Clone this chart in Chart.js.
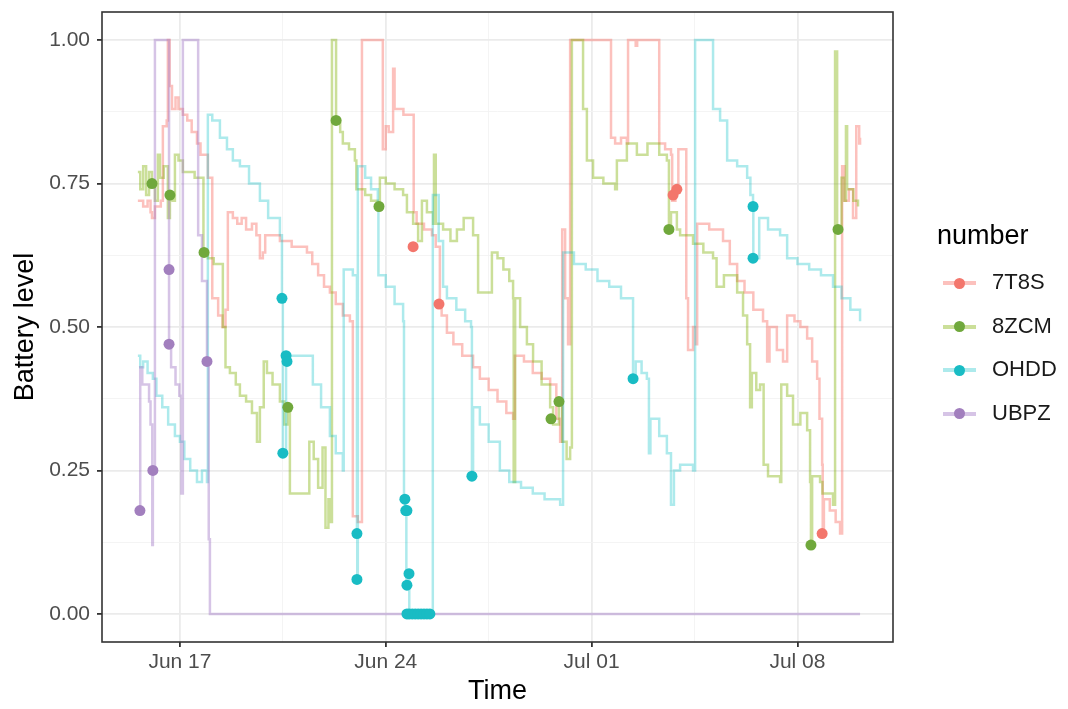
<!DOCTYPE html>
<html lang="en">
<head>
  <meta charset="UTF-8" />
  <title>Battery level</title>
  <script src="https://cdn.jsdelivr.net/npm/chart.js"></script>
  <style>
    body { margin: 0; background: #fff; font-family: "Liberation Sans", Arial, sans-serif; }
    #wrap { position: relative; width: 1068px; height: 709px; }
    #legend { position: absolute; left: 937px; top: 218px; }
    #legend .title { font-size: 27px; color: #000; line-height: 34px; margin-bottom: 10px; }
    #legend .item { position: relative; height: 43.5px; }
    #legend .line { position: absolute; left: 6px; top: 19px; width: 33px; height: 4px; }
    #legend .dot { position: absolute; left: 16.5px; top: 15.5px; width: 11px; height: 11px; border-radius: 50%; }
    #legend .label { position: absolute; left: 55px; top: 7px; font-size: 22px; color: #1a1a1a; }
  </style>
</head>
<body>
<div id="wrap">
  <canvas id="chart" width="1068" height="709"></canvas>
  <div id="legend"></div>
</div>
<script>
  // time is in days counted from Jun 1 (Jul 01 = 31)
  const series = ['7T8S', '8ZCM', 'OHDD', 'UBPZ'];
  const colors = ['#F3766C', '#70A83C', '#19BCC4', '#A27FBE'];
  const lineColors = ['rgba(248,118,109,0.45)', 'rgba(124,174,0,0.4)', 'rgba(0,191,196,0.32)', 'rgba(165,125,200,0.45)'];

  const t7T8S = [15.57,15.75,15.90,16.00,16.05,16.15,16.35,16.42,16.55,16.59,
    16.65,16.73,16.85,16.95,17.10,17.25,17.40,17.58,17.70,17.95,
    18.10,18.30,18.45,18.55,18.63,18.80,18.95,19.10,19.25,19.45,
    19.60,19.72,19.82,19.90,20.10,20.40,20.80,21.32,21.50,21.70,
    21.90,22.10,22.30,22.54,22.78,22.88,23.05,23.19,23.87,23.90,
    24.00,24.10,24.25,24.30,24.60,24.92,24.95,25.05,25.30,25.57,
    25.70,25.84,25.90,26.08,26.30,26.60,26.97,27.20,27.50,27.80,
    28.10,28.33,28.39,28.70,29.00,29.30,29.59,29.80,29.93,30.00,
    30.10,30.20,30.27,31.63,31.66,31.80,32.00,32.20,32.24,32.50,
    32.55,33.22,33.30,33.50,33.70,33.74,33.85,33.95,34.18,34.22,
    34.28,34.45,34.55,34.59,35.00,35.47,35.70,35.95,36.20,36.50,
    36.83,36.97,37.05,37.30,37.51,37.65,37.90,38.10,38.33,38.50,
    38.67,38.75,38.84,38.86,38.90,39.10,39.30,39.45,39.52,39.60,
    39.75,39.89,40.00,40.10,40.13];
  const v7T8S = [0.72,0.71,0.72,0.70,0.69,0.71,0.72,0.85,0.86,1.00,
    0.92,0.88,0.90,0.88,0.87,0.86,0.84,0.82,0.80,0.76,
    0.55,0.52,0.50,0.53,0.70,0.69,0.68,0.69,0.67,0.68,
    0.66,0.62,0.63,0.66,0.66,0.65,0.64,0.63,0.61,0.59,
    0.57,0.56,0.54,0.52,0.51,0.17,0.16,1.00,1.00,0.81,
    0.85,0.84,0.95,0.88,0.87,0.87,0.70,0.68,0.67,0.66,
    0.64,0.54,0.52,0.49,0.47,0.45,0.43,0.41,0.39,0.37,
    0.35,0.34,0.45,0.44,0.42,0.41,0.40,0.34,0.30,0.67,
    0.55,0.47,1.00,1.00,0.83,0.82,0.83,0.82,1.00,0.99,
    1.00,1.00,0.82,0.81,0.80,0.72,0.74,0.81,0.81,0.55,
    0.46,0.50,0.47,0.68,0.67,0.65,0.61,0.58,0.56,0.53,
    0.51,0.44,0.50,0.46,0.44,0.52,0.51,0.50,0.48,0.44,
    0.41,0.34,0.26,0.14,0.20,0.18,0.16,0.14,0.78,0.72,
    0.74,0.69,0.85,0.82,0.83];

  const t8ZCM = [15.57,15.65,15.75,15.85,15.95,16.05,16.15,16.25,16.32,16.45,
    16.59,16.66,16.75,16.83,16.95,17.10,17.30,17.50,17.68,17.80,
    17.95,18.15,18.36,18.46,18.55,18.70,18.90,19.04,19.25,19.45,
    19.62,19.72,19.85,19.96,20.15,20.40,20.55,20.67,20.74,21.32,
    21.40,21.55,21.70,21.85,21.95,22.05,22.10,22.17,22.27,22.31,
    22.45,22.54,22.75,22.95,23.00,23.30,23.50,23.77,23.80,24.00,
    24.30,24.59,24.72,24.93,25.10,25.23,25.40,25.61,25.64,25.70,
    25.95,26.20,26.42,26.65,26.97,27.14,27.54,27.61,27.80,28.00,
    28.20,28.33,28.35,28.40,28.57,28.80,29.01,29.30,29.59,29.69,
    29.89,30.00,30.15,30.27,30.33,30.61,30.71,30.84,31.05,31.40,
    31.80,31.86,32.20,32.54,32.90,33.30,33.56,33.63,33.70,33.90,
    34.01,34.45,34.80,35.13,35.25,35.50,35.95,36.15,36.29,36.39,
    36.45,36.60,36.73,36.85,37.00,37.41,37.45,37.65,37.85,38.10,
    38.33,38.43,38.46,38.50,38.77,38.85,39.21,39.28,39.35,39.50,
    39.60,39.65,39.69,39.90,40.06];
  const v8ZCM = [0.77,0.74,0.78,0.73,0.77,0.75,0.72,0.80,0.76,0.78,
    0.69,0.73,0.72,0.80,0.79,0.77,0.77,0.76,0.76,0.63,
    0.62,0.61,0.61,0.50,0.43,0.42,0.40,0.38,0.37,0.35,
    0.30,0.36,0.44,0.42,0.40,0.37,0.33,0.36,0.21,0.21,
    0.30,0.27,0.22,0.29,0.15,0.20,0.16,1.00,1.00,0.86,
    0.84,0.82,0.81,0.79,0.74,0.73,0.72,0.71,0.76,0.75,
    0.74,0.73,0.70,0.68,0.65,0.72,0.70,0.68,0.80,0.68,
    0.67,0.65,0.67,0.69,0.66,0.56,0.56,0.63,0.62,0.60,
    0.58,0.55,0.23,0.55,0.50,0.47,0.44,0.40,0.36,0.33,
    0.37,0.30,0.27,0.29,1.00,1.00,0.88,0.79,0.76,0.75,
    0.74,0.79,0.82,0.80,0.82,0.80,0.79,0.67,0.70,0.67,
    0.66,0.645,0.63,0.62,0.57,0.59,0.56,0.52,0.47,0.36,
    0.42,0.39,0.40,0.26,0.24,0.23,0.40,0.38,0.33,0.35,
    0.32,0.23,0.12,0.24,0.23,0.21,0.19,0.98,0.67,0.76,
    0.72,0.85,0.74,0.72,0.71];

  const tOHDD = [15.57,15.65,15.75,15.90,16.08,16.20,16.40,16.60,16.83,17.00,
    17.15,17.35,17.58,17.75,17.92,17.95,18.10,18.36,18.60,18.80,
    19.04,19.35,19.72,20.00,20.40,20.47,20.50,20.61,21.32,21.52,
    21.80,22.10,22.30,22.54,22.57,22.88,23.02,23.03,23.05,23.30,
    23.50,23.73,23.75,24.00,24.30,24.59,24.62,24.66,24.70,24.76,
    24.80,25.55,25.60,25.67,25.80,25.95,26.08,26.40,26.70,26.90,
    26.93,26.97,27.20,27.50,27.88,28.20,28.60,29.00,29.40,29.93,
    30.03,30.40,30.80,31.20,31.60,32.00,32.21,32.41,32.50,32.70,
    32.88,32.95,33.00,33.30,33.56,33.70,33.80,34.01,34.45,34.52,
    34.96,35.13,35.37,35.61,35.95,36.29,36.40,36.49,36.50,36.70,
    37.00,37.41,37.65,38.00,38.40,38.80,39.21,39.50,39.80,40.13];
  const vOHDD = [0.45,0.43,0.44,0.42,0.41,0.38,0.36,0.33,0.31,0.30,
    0.27,0.25,0.23,0.25,0.23,0.87,0.86,0.83,0.81,0.79,
    0.78,0.75,0.72,0.69,0.66,0.55,0.28,0.45,0.45,0.40,
    0.36,0.31,0.28,0.25,0.60,0.59,0.14,0.06,0.78,0.76,
    0.74,0.71,0.59,0.57,0.54,0.51,0.20,0.18,0.05,0.07,
    0.00,0.00,0.73,0.73,0.65,0.57,0.55,0.53,0.51,0.50,
    0.24,0.36,0.33,0.30,0.25,0.23,0.22,0.21,0.20,0.19,
    0.63,0.61,0.60,0.58,0.57,0.55,0.55,0.41,0.44,0.42,
    0.41,0.28,0.34,0.31,0.28,0.19,0.25,0.26,0.25,1.00,
    1.00,0.88,0.86,0.79,0.78,0.76,0.73,0.71,0.62,0.69,
    0.67,0.66,0.62,0.61,0.60,0.59,0.57,0.55,0.53,0.51];

  const tUBPZ = [15.64,15.65,15.72,15.85,15.95,16.00,16.06,16.08,16.15,16.59,
    16.63,16.70,16.85,16.98,17.05,17.10,17.58,17.62,17.75,17.92,
    17.98,18.02,40.13];
  const vUBPZ = [0.18,0.43,0.40,0.40,0.37,0.33,0.12,0.25,1.00,1.00,
    0.47,0.43,0.40,0.38,0.21,1.00,1.00,0.66,0.58,0.44,
    0.13,0.00,0.00];

  // highlighted observations (dots)
  const pt7T8S = [24.93,25.81,33.77,33.90,38.84];
  const pv7T8S = [0.64,0.54,0.73,0.74,0.14];
  const pt8ZCM = [16.05,16.66,17.82,20.67,22.31,23.77,29.62,29.89,33.63,38.46,39.38];
  const pv8ZCM = [0.75,0.73,0.63,0.36,0.86,0.71,0.34,0.37,0.67,0.12,0.67];
  const ptOHDD = [20.47,20.50,20.61,20.64,23.02,23.02,24.65,24.68,24.72,24.79,24.72,
    24.72,24.80,24.90,25.00,25.10,25.20,25.30,25.40,25.50,26.93,32.41,36.49,36.49];
  const pvOHDD = [0.55,0.28,0.45,0.44,0.14,0.06,0.20,0.18,0.18,0.07,0.05,
    0.00,0.00,0.00,0.00,0.00,0.00,0.00,0.00,0.00,0.24,0.41,0.71,0.62];
  const ptUBPZ = [15.64,16.08,16.63,16.63,17.92];
  const pvUBPZ = [0.18,0.25,0.60,0.47,0.44];

  const xTicks = [17, 20.5, 24, 27.5, 31, 34.5, 38];
  const xLabels = { 17: 'Jun 17', 24: 'Jun 24', 31: 'Jul 01', 38: 'Jul 08' };
  const yTicks = [0, 0.125, 0.25, 0.375, 0.5, 0.625, 0.75, 0.875, 1];
  const yLabels = { 0: '0.00', 0.25: '0.25', 0.5: '0.50', 0.75: '0.75', 1: '1.00' };

  const zip = (t, v) => t.map((x, i) => ({ x: x, y: v[i] }));
  const lineT = [t7T8S, t8ZCM, tOHDD, tUBPZ];
  const lineV = [v7T8S, v8ZCM, vOHDD, vUBPZ];
  const dotT = [pt7T8S, pt8ZCM, ptOHDD, ptUBPZ];
  const dotV = [pv7T8S, pv8ZCM, pvOHDD, pvUBPZ];

  const datasets = [];
  series.forEach((name, i) => {
    datasets.push({
      label: name,
      data: zip(lineT[i], lineV[i]),
      borderColor: lineColors[i],
      borderWidth: 2.5,
      stepped: true,
      pointRadius: 0,
      fill: false,
      order: 20 - i
    });
  });
  series.forEach((name, i) => {
    datasets.push({
      label: name + ' points',
      data: zip(dotT[i], dotV[i]),
      showLine: false,
      pointRadius: 5.5,
      pointBorderWidth: 0,
      pointBackgroundColor: colors[i],
      order: 10 - i
    });
  });

  const panelBorder = {
    id: 'panelBorder',
    afterDraw(chart) {
      const { ctx, chartArea: a } = chart;
      ctx.save();
      ctx.strokeStyle = '#333333';
      ctx.lineWidth = 1.6;
      ctx.strokeRect(a.left, a.top, a.right - a.left, a.bottom - a.top);
      ctx.restore();
    }
  };

  const isMajorX = v => xLabels[v] !== undefined;
  const isMajorY = v => yLabels[v] !== undefined;

  Chart.defaults.font.family = '"Liberation Sans", Arial, sans-serif';

  new Chart(document.getElementById('chart'), {
    type: 'line',
    data: { datasets: datasets },
    plugins: [panelBorder],
    options: {
      responsive: false,
      animation: false,
      layout: { padding: { top: 12, right: 175, left: 0, bottom: 0 } },
      plugins: { legend: { display: false }, tooltip: { enabled: false } },
      scales: {
        x: {
          type: 'linear',
          min: 14.35,
          max: 41.25,
          afterBuildTicks: s => { s.ticks = xTicks.map(v => ({ value: v })); },
          afterFit: s => { s.height = 67; s.paddingLeft = 0; s.paddingRight = 0; },
          border: { display: false },
          grid: {
            color: c => isMajorX(c.tick.value) ? '#EBEBEB' : '#F3F3F3',
            lineWidth: c => isMajorX(c.tick.value) ? 1.8 : 0.9,
            tickColor: c => isMajorX(c.tick.value) ? '#333333' : 'rgba(0,0,0,0)',
            tickLength: 5
          },
          ticks: {
            autoSkip: false,
            maxRotation: 0,
            padding: 3,
            color: '#4D4D4D',
            font: { size: 21 },
            callback: v => xLabels[v] || ''
          },
          title: { display: true, text: 'Time', color: '#000', font: { size: 27 }, padding: { top: 0, bottom: 1 } }
        },
        y: {
          min: -0.049,
          max: 1.049,
          afterBuildTicks: s => { s.ticks = yTicks.map(v => ({ value: v })); },
          afterFit: s => { s.width = 102; s.paddingTop = 0; s.paddingBottom = 0; },
          border: { display: false },
          grid: {
            color: c => isMajorY(c.tick.value) ? '#EBEBEB' : '#F3F3F3',
            lineWidth: c => isMajorY(c.tick.value) ? 1.8 : 0.9,
            tickColor: c => isMajorY(c.tick.value) ? '#333333' : 'rgba(0,0,0,0)',
            tickLength: 5
          },
          ticks: {
            autoSkip: false,
            padding: 7,
            color: '#4D4D4D',
            font: { size: 21 },
            callback: v => yLabels[v] || ''
          },
          title: { display: true, text: 'Battery level', color: '#000', font: { size: 27 }, padding: { top: 9, bottom: 0 } }
        }
      }
    }
  });

  // legend on the right
  const legend = document.getElementById('legend');
  legend.innerHTML = '<div class="title">number</div>' + series.map((name, i) =>
    '<div class="item"><div class="line" style="background:' + lineColors[i] + '"></div>' +
    '<div class="dot" style="background:' + colors[i] + '"></div>' +
    '<div class="label">' + name + '</div></div>').join('');
</script>
</body>
</html>
